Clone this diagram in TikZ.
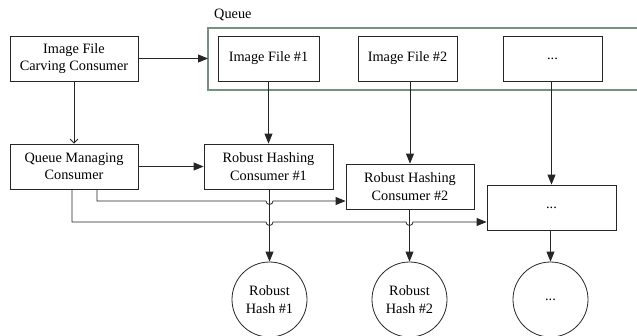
\documentclass[tikz,border=0pt]{standalone}
\usepackage{fontspec}
\setmainfont{Liberation Serif}
\usetikzlibrary{arrows.meta,calc}
\definecolor{qframe}{RGB}{118,145,128}
\begin{document}
\begin{tikzpicture}[x=1pt,y=-1pt,
  font=\fontsize{14.3}{17.6}\selectfont,
  box/.style={draw=black!85,line width=0.8pt,rectangle,minimum height=45pt,inner sep=0pt,align=center},
  hashc/.style={draw=black!85,line width=0.8pt,circle,minimum size=75pt,inner sep=0pt,align=center},
  conn/.style={draw=black!85,line width=0.8pt,-{Triangle[length=10pt,width=8pt]}},
  openconn/.style={draw=black!85,line width=0.8pt,-{Straight Barb[length=4pt,width=8pt]}}]
\useasboundingbox (0,0) rectangle (637,335);
% queue frame
\draw[qframe,line width=1.6pt] (637,28) -- (208,28) -- (208,90) -- (637,90);
\node[anchor=west,inner sep=0pt] (qlabel) at (214,15) {Queue};
% nodes
\node[box,minimum width=128pt] (carve) at (74,58.5) {Image File\\Carving Consumer};
\node[box,minimum width=128pt] (qm) at (74,166.5) {Queue Managing\\Consumer};
\node[box,minimum width=101pt] (img1) at (268.5,58.5) {Image File \#1};
\node[box,minimum width=99pt] (img2) at (407.5,58.5) {Image File \#2};
\node[box,minimum width=99pt] (imgd) at (552.5,58.5) {...};
\node[box,minimum width=129pt] (rhc1) at (268.5,166.5) {Robust Hashing\\Consumer \#1};
\node[box,minimum width=128pt] (rhc2) at (410,186.5) {Robust Hashing\\Consumer \#2};
\node[box,minimum width=129pt] (rd) at (551.5,207.5) {...};
\node[hashc] (h1) at (269.5,299.5) {Robust\\Hash \#1};
\node[hashc] (h2) at (409.5,299.5) {Robust\\Hash \#2};
\node[hashc] (hd) at (550.5,299.5) {...};
\coordinate (qin) at (208,58.5);
% connectors
\draw[conn] (carve.east) -- (qin);
\draw[openconn] (carve.south) -- (qm.north);
\draw[conn] (qm.east) -- (rhc1.west);
\draw[conn] (img1.south -| rhc1.north) -- (rhc1.north);
\draw[conn] (img2.south -| rhc2.north) -- (rhc2.north);
\draw[conn] (imgd.south -| rd.north) -- (rd.north);
\draw[conn] (rhc1.south -| h1.north) -- (h1.north);
\draw[conn] (rhc2.south -| h2.north) -- (h2.north);
\draw[conn] (rd.south -| hd.north) -- (hd.north);
% QM -> RHC2 with hop over RHC1 line
\coordinate (a1) at (97,201);
\coordinate (a2) at (72,222);
\draw[conn] ([xshift=23pt]qm.south) -- (a1) -- ($(h1.north |- a1)+(-3.5,0)$) arc[start angle=180,end angle=0,radius=3.5] -- (rhc2.west |- a1);
\draw[conn] ([xshift=-2pt]qm.south) -- (a2) -- ($(h1.north |- a2)+(-3.5,0)$) arc[start angle=180,end angle=0,radius=3.5]
  -- ($(h2.north |- a2)+(-3.5,0)$) arc[start angle=180,end angle=0,radius=3.5] -- (rd.west |- a2);
\end{tikzpicture}
\end{document}
